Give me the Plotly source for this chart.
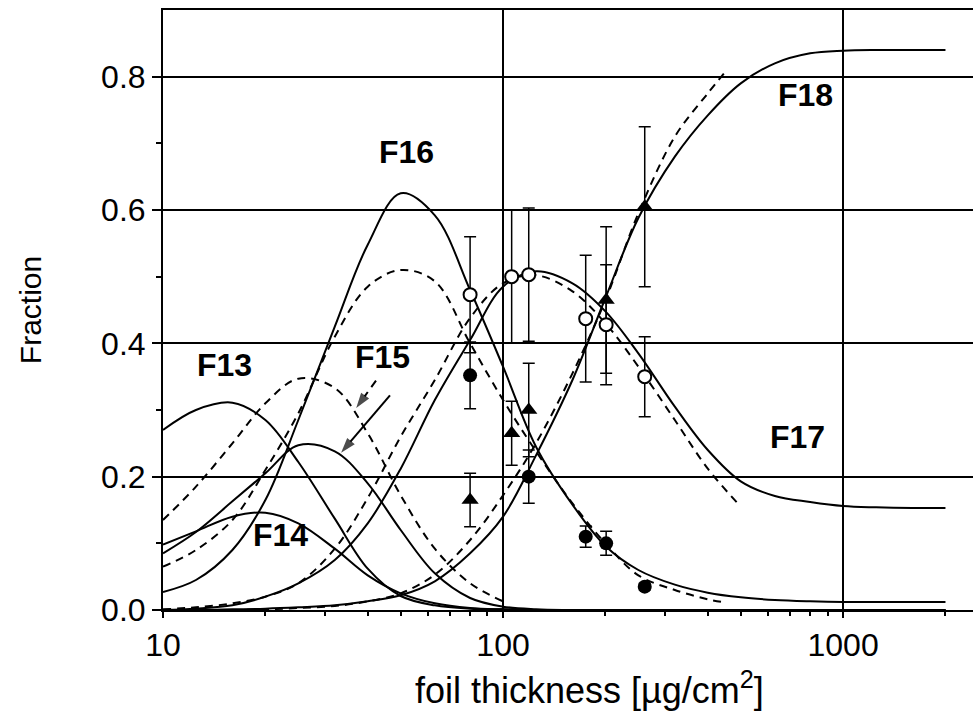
import math
import plotly.graph_objects as go

# thickness grid (µg/cm²) on which the curves are tabulated
grid = [10, 12.5, 16, 20, 25, 32, 40, 50, 63, 80, 100, 125, 160, 200, 250, 320, 400, 500, 630, 800,
        1000, 1250, 1600, 2000]

# ---------------- calculated charge-state fractions (solid) ----------------
f13_x = grid[:12] + [2000]
f13_y = [0.27, 0.300, 0.311, 0.285, 0.222, 0.137, 0.062, 0.021, 0.007, 0.002, 0.001, 0.0, 0.0]

f14_x = grid[:12] + [2000]
f14_y = [0.098, 0.118, 0.140, 0.146, 0.130, 0.092, 0.052, 0.025, 0.010, 0.003, 0.001, 0.0, 0.0]

f15_x = grid[:13] + [2000]
f15_y = [0.085, 0.117, 0.163, 0.205, 0.247, 0.238, 0.19, 0.12, 0.055, 0.018, 0.005, 0.001, 0.0, 0.0]

f16_x = grid
f16_y = [0.027, 0.045, 0.09, 0.165, 0.285, 0.425, 0.548, 0.625, 0.592, 0.48, 0.365, 0.245, 0.158,
         0.096, 0.06, 0.038, 0.026, 0.019, 0.015, 0.013, 0.012, 0.012, 0.012, 0.012]

f17_x = grid
f17_y = [0.0, 0.002, 0.007, 0.02, 0.04, 0.075, 0.13, 0.212, 0.315, 0.405, 0.485, 0.508, 0.49, 0.448,
         0.385, 0.305, 0.24, 0.193, 0.171, 0.162, 0.156, 0.154, 0.153, 0.153]

f18_x = grid
f18_y = [0.0, 0.0, 0.001, 0.002, 0.004, 0.007, 0.013, 0.022, 0.043, 0.085, 0.14, 0.232, 0.345, 0.468,
         0.588, 0.68, 0.742, 0.79, 0.82, 0.835, 0.839, 0.84, 0.84, 0.84]

# ---------------- alternative calculation (dashed) ----------------
d15_x = grid[:11]
d15_y = [0.135, 0.185, 0.25, 0.31, 0.347, 0.333, 0.265, 0.172, 0.092, 0.04, 0.013]

d16_x = grid[:17] + [440]
d16_y = [0.065, 0.09, 0.135, 0.21, 0.295, 0.41, 0.485, 0.51, 0.493, 0.40, 0.315, 0.238, 0.16, 0.10,
         0.052, 0.03, 0.016, 0.012]

d17_x = grid[:17] + [490]
d17_y = [0.001, 0.004, 0.01, 0.02, 0.04, 0.092, 0.168, 0.26, 0.345, 0.438, 0.49, 0.502, 0.478, 0.43,
         0.365, 0.285, 0.212, 0.16]

d18_x = grid[:17] + [455]
d18_y = [0.0, 0.0, 0.0, 0.001, 0.003, 0.006, 0.013, 0.025, 0.053, 0.105, 0.172, 0.25, 0.355, 0.465,
         0.595, 0.71, 0.775, 0.81]

# ---------------- measured fractions ----------------
meas17_x = [80, 106, 119, 175, 201, 261]          # open circles
meas17_y = [0.473, 0.50, 0.503, 0.437, 0.428, 0.35]
meas17_e = [0.087, 0.10, 0.10, 0.095, 0.09, 0.06]

meas16_x = [80, 119, 175, 201, 261]               # filled circles
meas16_y = [0.352, 0.20, 0.11, 0.10, 0.035]
meas16_e = [0.05, 0.04, 0.016, 0.018, 0.005]

meas18_x = [80, 106, 119, 201, 261]               # filled triangles
meas18_y = [0.165, 0.265, 0.30, 0.465, 0.605]
meas18_e = [0.04, 0.048, 0.07, 0.11, 0.12]

# curve labels: text, thickness, fraction
labels = [("F13", 15.2, 0.368), ("F14", 22.1, 0.113), ("F15", 44.3, 0.38),
          ("F16", 52, 0.687), ("F17", 733, 0.26), ("F18", 773, 0.773)]

# arrows from the F15 label to the two F15 curves: (x0, y0, x1, y1, dashed)
arrows = [(46.5, 0.322, 33.4, 0.236, False), (42.3, 0.344, 37.0, 0.303, True)]

FONT = "Liberation Sans, Arial, sans-serif"
DASH = "8px,6px"

fig = go.Figure()


def add_curve(x, y, dashed=False):
    fig.add_trace(go.Scatter(
        x=x, y=y, mode="lines", hoverinfo="skip", showlegend=False,
        line=dict(color="black", width=2, shape="spline", smoothing=1.0,
                  dash=DASH if dashed else "solid")))


for cx, cy in [(d15_x, d15_y), (d16_x, d16_y), (d17_x, d17_y), (d18_x, d18_y)]:
    add_curve(cx, cy, dashed=True)
for cx, cy in [(f13_x, f13_y), (f14_x, f14_y), (f15_x, f15_y), (f16_x, f16_y),
               (f17_x, f17_y), (f18_x, f18_y)]:
    add_curve(cx, cy)

err_style = dict(type="data", width=6, thickness=1.5, color="black")

fig.add_trace(go.Scatter(
    x=meas16_x, y=meas16_y, mode="markers", showlegend=False,
    error_y=dict(array=meas16_e, **err_style),
    marker=dict(symbol="circle", size=14, color="black")))
fig.add_trace(go.Scatter(
    x=meas18_x, y=meas18_y, mode="markers", showlegend=False,
    error_y=dict(array=meas18_e, **err_style),
    marker=dict(symbol="triangle-up", size=15, color="black")))
fig.add_trace(go.Scatter(
    x=meas17_x, y=meas17_y, mode="markers", showlegend=False,
    error_y=dict(array=meas17_e, **err_style),
    marker=dict(symbol="circle", size=13, color="white", line=dict(color="black", width=2))))

for x0, y0, x1, y1, dashed in arrows:
    fig.add_trace(go.Scatter(
        x=[x0, x1], y=[y0, y1], mode="lines+markers", showlegend=False, hoverinfo="skip",
        line=dict(color="black", width=2, dash=DASH if dashed else "solid"),
        marker=dict(symbol="arrow", size=[0, 16], color="black", angleref="previous",
                    line=dict(width=0))))

for text, lx, ly in labels:
    fig.add_annotation(x=math.log10(lx), y=ly, text=text, showarrow=False,
                       xanchor="center", yanchor="middle",
                       font=dict(family=FONT, size=32, color="black", weight="bold"))

# axis titles
fig.add_annotation(xref="paper", yref="paper", x=0.527, y=-0.13, xanchor="center", yanchor="middle",
                   text="foil thickness [µg/cm<sup>2</sup>]", showarrow=False,
                   font=dict(family=FONT, size=36, color="black"))
fig.add_annotation(xref="paper", yref="paper", x=-0.164, y=0.5, xanchor="center", yanchor="middle",
                   text="Fraction", textangle=-90, showarrow=False,
                   font=dict(family=FONT, size=30, color="black"))

axis_common = dict(showline=True, linecolor="black", linewidth=2, ticks="outside",
                   tickwidth=2, tickcolor="black", showgrid=True, gridcolor="black", gridwidth=1.5,
                   zeroline=False, tickfont=dict(family=FONT, size=32, color="black"))

fig.update_xaxes(type="log", range=[1, 3.382], mirror=True, ticklen=6,
                 tickvals=[10, 100, 1000], ticktext=["10", "100", "1000"],
                 minor=dict(tickvals=[20, 30, 40, 50, 60, 70, 80, 90, 200, 300, 400, 500, 600, 700,
                                      800, 900, 2000],
                            ticks="outside", ticklen=4, tickwidth=1.5, tickcolor="black", showgrid=False),
                 **axis_common)
fig.update_yaxes(range=[0, 0.9], ticklen=9, tickvals=[0, 0.2, 0.4, 0.6, 0.8],
                 ticktext=["0.0", "0.2", "0.4", "0.6", "0.8"],
                 minor=dict(tickvals=[0.1, 0.3, 0.5, 0.7], ticks="outside", ticklen=5, tickwidth=1.5,
                            tickcolor="black", showgrid=False),
                 **axis_common)

fig.update_layout(width=973, height=717, margin=dict(l=163, r=0, t=10, b=107),
                  paper_bgcolor="white", plot_bgcolor="white", showlegend=False)

fig.write_html("out.html")
